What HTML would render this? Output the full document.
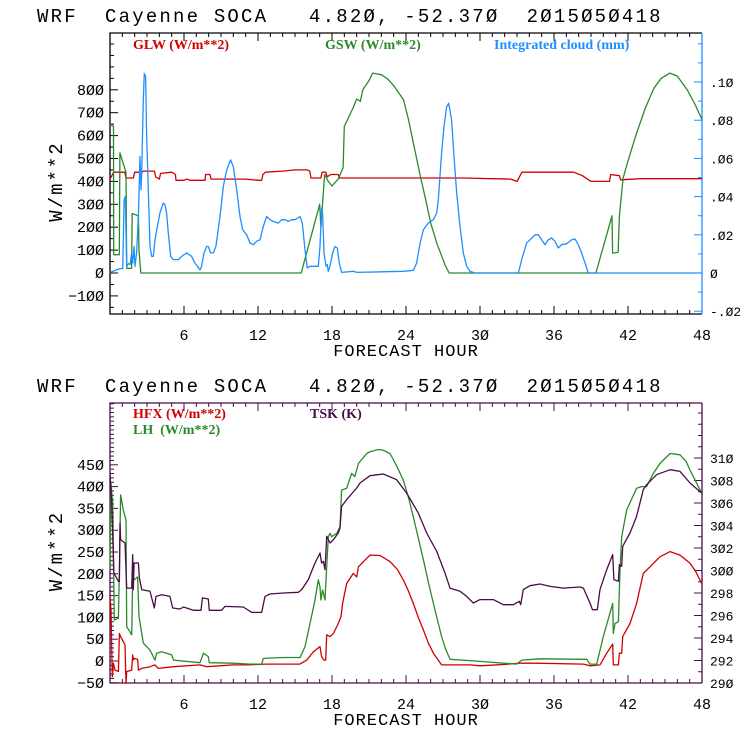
<!DOCTYPE html>
<html><head><meta charset="utf-8"><style>
body{margin:0;background:#fff;}
svg{display:block;}
text{white-space:pre;}
.t{font-family:"Liberation Mono",monospace;font-size:19px;letter-spacing:2.2px;fill:#000;}
.tk{font-family:"Liberation Mono",monospace;font-size:15px;fill:#000;}
.lg{font-family:"Liberation Serif",serif;font-size:14px;font-weight:bold;}
</style></head><body>
<svg id="chart" width="740" height="740" viewBox="0 0 740 740" xmlns="http://www.w3.org/2000/svg"></svg>
<script>
// ---- top panel data ----
const glwHours=[0,0.3,1.2,1.3,1.9,2.0,2.6,2.7,3.6,3.7,4.0,4.1,5.0,5.3,5.35,6,6.2,6.5,7.7,7.75,8.1,8.2,11,12,12.3,12.4,12.6,14,15,16,16.2,16.3,17.1,17.2,17.5,17.6,17.9,18.5,18.6,28.6,32.5,33.0,33.4,37.6,38.3,39.0,40.5,40.6,41.3,41.4,43,48];
const glwVals=[410,440,440,415,415,440,440,445,445,420,410,435,440,430,405,405,410,405,405,430,430,410,410,405,405,430,440,445,450,450,445,415,415,440,440,420,430,430,415,415,410,400,440,440,425,400,400,430,425,407,412,412];
const gswHours=[0,0.28,0.3,0.75,0.8,1.3,1.35,1.75,1.8,2.3,2.35,2.5,15.5,17.0,17.1,17.4,17.7,18.0,18.5,18.9,19.0,19.7,20.0,20.3,20.5,21.0,21.3,22.0,22.5,23.0,23.5,23.8,24.2,24.6,25.2,25.6,26.0,26.5,26.9,27.2,27.5,39.4,40.7,40.75,41.2,41.3,41.6,42.0,42.7,43.4,44.1,44.7,45.4,46.0,46.8,47.4,48];
const gswVals=[650,640,80,80,525,440,20,20,260,250,100,0,0,300,200,430,400,380,410,460,640,720,760,750,800,840,873,866,848,818,780,756,670,567,414,320,218,130,73,30,0,0,250,87,90,250,414,490,611,720,807,850,873,860,800,740,670];
const cloudHours=[0,0.81,1.03,1.14,1.24,1.35,1.49,1.62,1.76,1.84,1.95,2.03,2.16,2.30,2.43,2.51,2.57,2.65,2.70,2.78,2.89,2.97,3.11,3.24,3.38,3.51,3.65,3.84,4.05,4.32,4.46,4.59,4.73,4.92,5.14,5.54,5.81,6.22,6.62,6.89,7.30,7.43,7.62,7.84,7.97,8.16,8.38,8.59,8.92,9.19,9.46,9.78,10.0,10.27,10.54,10.76,11.08,11.35,11.62,11.89,12.16,12.43,12.70,12.97,13.24,13.65,13.92,14.19,14.46,14.73,15.0,15.41,15.59,15.81,16.0,16.22,16.89,17.03,17.16,17.24,17.35,17.51,17.62,17.70,17.84,18.05,18.24,18.43,18.59,18.78,19.73,20.0,23.78,24.59,24.86,25.14,25.41,25.81,26.22,26.49,26.62,26.89,27.08,27.30,27.46,27.70,27.89,28.11,28.38,28.65,28.92,29.19,29.59,33.11,33.38,33.78,34.05,34.46,34.73,35.0,35.27,35.54,35.81,36.08,36.35,36.62,37.03,37.43,37.70,37.97,38.24,38.51,38.78,48];
const cloudVals=[.0003,.0023,.0023,.0383,.0401,.0035,.0049,.0044,.0105,.0052,.0139,.0035,.0105,.0296,.061,.0436,.0523,.0767,.0906,.1045,.1028,.0732,.0418,.0139,.0087,.0087,.0174,.0244,.0314,.0366,.0357,.0314,.0209,.0087,.007,.007,.0087,.0105,.0087,.0052,.0017,.0035,.0105,.0139,.0139,.0105,.0105,.0139,.0296,.0453,.054,.0592,.0557,.0436,.0296,.0226,.02,.0157,.0148,.0166,.0174,.0244,.0296,.0279,.027,.0261,.0279,.0279,.027,.0279,.0279,.0296,.0261,.0122,.0026,.0035,.0035,.0139,.034,.0314,.0105,.0035,.0044,.0009,.0035,.0105,.0139,.0131,.0052,.0003,.0009,.0003,.0009,.0014,.0052,.0157,.0226,.0261,.0279,.0314,.0383,.0627,.0767,.0871,.0889,.0801,.061,.0418,.0244,.0105,.0035,.0009,0,0,.007,.0157,.0174,.02,.02,.0174,.0148,.0174,.0183,.0166,.0131,.0148,.0153,.0174,.0178,.0148,.0105,.0052,0,0];
// ---- bottom panel data ----
const hfxHours=[0,0.08,0.19,0.27,0.41,0.68,0.76,0.86,1.22,1.3,1.35,1.76,1.84,1.89,1.95,2.24,2.3,2.57,3.24,3.65,3.92,5.14,7.3,7.84,10.0,11.08,12.7,15.4,15.95,16.49,17.03,17.16,17.35,17.49,17.57,17.84,18.11,18.51,18.73,18.86,19.19,19.73,20.0,20.14,21.08,21.89,22.7,23.3,23.78,24.2,24.59,25.0,25.41,25.8,26.22,26.89,29.19,30,31.89,33.24,34.59,38.38,38.92,39.73,40.27,40.76,40.81,41.22,41.3,41.49,41.57,42.16,42.7,43.24,43.78,44.59,45.41,46.22,47.03,47.5,47.97];
const hfxVals=[148,117,-36,-5,-21,-24,63,56,37,-51,-24,-21,14,2,6,4,-21,-17,-13,-9,-17,-13,-9,-13,-9,-9,-7,-7,2,21,33,10,2,2,60,56,63,86,102,132,178,201,193,216,243,242,228,210,186,160,132,100,71,42,18,-9,-9,-11,-8,-5,-5,-7,-11,-9,18,39,-9,-9,18,18,56,86,132,201,216,239,251,243,224,205,178];
const lhHours=[0,0.08,0.22,0.35,0.68,0.76,0.86,1.08,1.3,1.35,1.76,1.84,1.95,2.24,2.35,2.7,3.24,3.65,3.78,4.19,4.59,5.0,5.14,7.3,7.57,7.97,8.05,10.0,11.35,12.3,12.43,14.05,15.41,15.81,16.22,16.62,16.89,17.03,17.1,17.24,17.43,17.57,17.7,17.84,17.97,18.38,18.65,18.78,19.19,19.59,19.86,20.14,20.81,21.08,21.76,22.2,22.7,23.2,23.78,24.2,24.59,25.0,25.41,25.8,26.22,26.6,26.89,27.2,27.57,29.19,30.54,31.89,32.97,33.38,34.86,38.65,38.92,39.46,40.0,40.76,40.81,40.95,41.22,41.35,41.49,41.89,42.7,43.11,43.51,44.0,44.59,45.41,46.22,46.7,47.03,47.5,47.97];
const lhVals=[209,407,362,94,98,209,381,346,323,79,60,193,186,193,102,41,25,2,18,21,18,14,2,-4,18,10,-4,-5,-7,-7,6,8,8,33,86,140,186,170,140,163,140,216,285,293,285,293,308,392,396,430,423,453,476,480,485,483,476,450,415,375,331,282,232,182,132,88,56,28,4,1,-2,-5,-7,2,5,4,-7,-7,56,132,63,86,90,209,285,346,396,400,400,428,453,476,473,458,438,412,385];
const tskHours=[0,0.14,0.32,0.68,0.76,0.81,0.86,1.22,1.35,1.76,1.84,1.89,1.95,2.30,2.38,2.57,3.24,3.59,3.73,4.19,4.86,5.08,5.68,5.95,6.76,7.38,7.49,7.97,8.05,9.05,9.32,10.81,11.49,12.30,12.57,12.97,14.05,15.27,15.54,16.08,16.62,17.03,17.16,17.30,17.43,17.57,17.84,18.11,18.51,18.65,18.78,19.19,20.0,20.27,21.08,22.16,23.24,24.05,25.0,25.68,26.49,27.16,27.57,28.38,28.92,29.46,30.0,31.08,31.89,32.7,33.19,33.3,33.51,34.05,34.86,35.68,36.76,38.11,38.38,38.92,39.11,39.51,39.73,40.27,40.76,40.86,41.22,41.3,41.49,41.57,42.16,42.7,43.24,43.51,44.32,45.41,46.22,47.03,47.97];
const tskVals=[308.67,306.0,299.78,299.04,299.04,304.22,302.74,302.44,298.44,298.44,301.41,298.3,300.67,300.67,299.33,298.3,298.15,296.67,297.7,297.85,297.7,296.67,296.58,296.76,296.46,296.46,297.56,297.47,296.46,296.46,296.81,296.76,296.28,296.28,297.7,297.91,298.0,298.06,298.3,299.19,300.67,301.56,300.67,300.81,300.07,303.04,302.44,302.74,303.33,303.78,305.7,306.3,307.33,307.78,308.43,308.58,308.07,306.89,305.11,303.33,301.7,299.78,298.44,298.15,297.7,297.11,297.41,297.41,296.96,296.96,297.26,296.96,298.3,298.65,298.8,298.59,298.44,298.53,298.44,297.11,296.52,296.52,298.3,300.07,301.41,299.19,299.04,300.52,300.37,302.15,303.33,304.81,307.19,307.63,308.52,308.96,308.81,307.78,306.89];
const xTickLabels=[6,12,18,24,30,36,42,48];
const topLeftTicks=[-100,0,100,200,300,400,500,600,700,800];
const topRightTicks=[-0.02,0,0.02,0.04,0.06,0.08,0.10];
const topRightLabels=["-.02","0",".02",".04",".06",".08",".10"];
const botLeftTicks=[-50,0,50,100,150,200,250,300,350,400,450];
const botRightTicks=[290,292,294,296,298,300,302,304,306,308,310];

const NS="http://www.w3.org/2000/svg";
const svg=document.getElementById('chart');
function mk(tag,attrs,parent){const e=document.createElementNS(NS,tag);for(const k in attrs)e.setAttribute(k,attrs[k]);(parent||svg).appendChild(e);return e;}
const L=110,R=702;
const xs=h=>L+(R-L)*h/48;
const yTopL=v=>273-v*0.229;
const yTopR=v=>273-v*1910;
const yBotL=v=>661-v*0.436;
const yBotR=v=>683-(v-290)*11.25;

function series(hours,vals,ys,color,name){
  let d='';
  for(let i=0;i<hours.length;i++){d+=(i?'L':'M')+xs(hours[i]).toFixed(1)+' '+ys(vals[i]).toFixed(1);}
  const p=mk('path',{d:d,fill:'none',stroke:color,'stroke-width':1.3,'stroke-linejoin':'round'});
  
  
}
function text(x,y,s,cls,fill,anchor,name){
  const t=mk('text',{x:x,y:y,class:cls});
  if(fill)t.setAttribute('fill',fill);
  if(anchor)t.setAttribute('text-anchor',anchor);
  t.textContent=s;
  
  
  return t;
}
function panel(top,bot,frameColor,rightColor,leftTicks,leftMinorStep,leftMin,leftMax,ysL,rightTicks,rightLabels,rightMinorStep,rMin,rMax,ysR,titleY,prefix){
  const g=mk('g',{});
  
  
  text(37,titleY,"WRF  Cayenne SOCA   4.820, -52.370  2015050418".replace(/0/g,'Ø'),'t',null,null,prefix+'-title');
  mk('path',{d:`M${R} ${top}H${L}V${bot}H${R}`,fill:'none',stroke:frameColor,'stroke-width':1.3},g);
  mk('line',{x1:R,y1:top,x2:R,y2:bot,stroke:rightColor,'stroke-width':1.3},g);
  for(let h=1;h<48;h++){
    const len=h%6===0?8:4;const x=xs(h);
    mk('line',{x1:x,y1:bot,x2:x,y2:bot-len,stroke:frameColor},g);
    mk('line',{x1:x,y1:top,x2:x,y2:top+len,stroke:frameColor},g);
  }
  xTickLabels.forEach(v=>text(xs(v),bot+26,String(v).replace(/0/g,'Ø'),'tk',null,'middle',prefix+'-x-tick'));
  text(406,bot+42,"FORECAST HOUR",'tk',null,'middle',prefix+'-x-axis-title').setAttribute('style','font-size:17px;letter-spacing:1px');
  for(let v=leftMin;v<=leftMax+1e-9;v+=leftMinorStep){
    const y=ysL(v);if(y<top||y>bot)continue;
    const major=leftTicks.some(t=>Math.abs(t-v)<1e-6);
    mk('line',{x1:L,y1:y,x2:L+(major?8:4),y2:y,stroke:frameColor},g);
  }
  leftTicks.forEach(v=>text(104,ysL(v)+5,String(v).replace('-','−').replace(/0/g,'Ø'),'tk',null,'end',prefix+'-y-tick'));
  for(let v=rMin;v<=rMax+1e-9;v+=rightMinorStep){
    const y=ysR(v);if(y<top-0.5||y>bot+0.5)continue;
    const major=rightTicks.some(t=>Math.abs(t-v)<1e-6);
    mk('line',{x1:R,y1:y,x2:R-(major?8:4),y2:y,stroke:rightColor},g);
  }
  rightTicks.forEach((v,i)=>text(710,ysR(v)+5,rightLabels[i].replace(/0/g,'Ø'),'tk',null,null,prefix+'-y2-tick').setAttribute('style','font-size:13px'));
  const yt=text(0,0,"W/m**2",'tk',null,'middle',prefix+'-y-axis-title');
  yt.setAttribute('transform',`translate(62 ${(top+bot)/2+8}) rotate(-90)`);
  yt.setAttribute('style','font-size:19px;letter-spacing:2px');
}
panel(33,314,'#000','#1e8fff',topLeftTicks,50,-150,1000,yTopL,topRightTicks,topRightLabels,0.01,-0.03,0.13,yTopR,22,'top');
panel(403,683,'#4a0c48','#4a0c48',botLeftTicks,10,-50,600,yBotL,botRightTicks,botRightTicks.map(String),1,290,316,yBotR,392,'bottom');

series(glwHours,glwVals,yTopL,'#d00000','glw-line');
series(gswHours,gswVals,yTopL,'#2a8a2a','gsw-line');
series(cloudHours,cloudVals,yTopR,'#1e8fff','cloud-line');
series(hfxHours,hfxVals,yBotL,'#d00000','hfx-line');
series(lhHours,lhVals,yBotL,'#2a8a2a','lh-line');
series(tskHours,tskVals,yBotR,'#4a0c48','tsk-line');

text(133,49,"GLW (W/m**2)",'lg','#d00000',null,'legend-glw');
text(325,49,"GSW (W/m**2)",'lg','#2a8a2a',null,'legend-gsw');
text(494,49,"Integrated cloud (mm)",'lg','#1e8fff',null,'legend-cloud');
text(133,418,"HFX (W/m**2)",'lg','#d00000',null,'legend-hfx');
text(133,434,"LH  (W/m**2)",'lg','#2a8a2a',null,'legend-lh');
text(310,418,"TSK (K)",'lg','#4a0c48',null,'legend-tsk');
</script>
</body></html>
